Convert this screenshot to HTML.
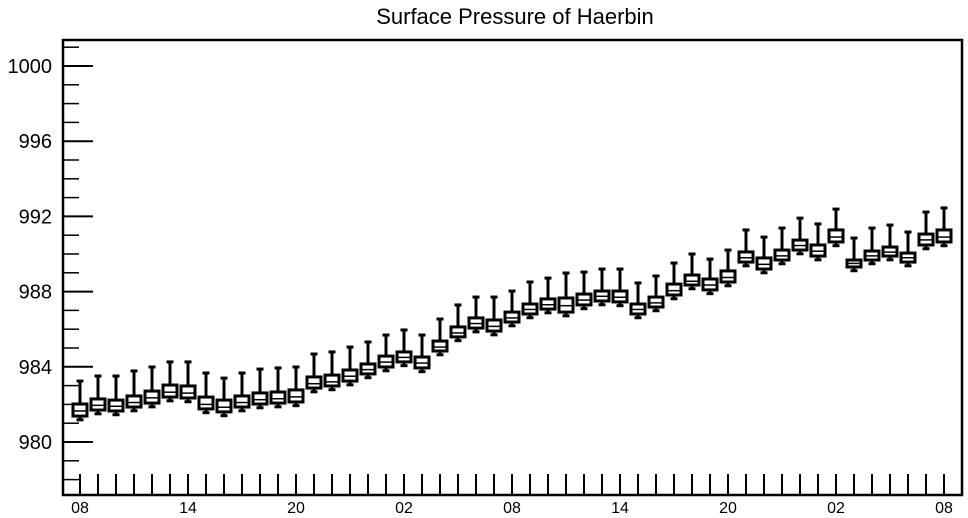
<!DOCTYPE html>
<html><head><meta charset="utf-8"><style>
body{margin:0;background:#fff}
svg{display:block;font-family:"Liberation Sans",sans-serif}
</style></head><body>
<svg id="chart" width="968" height="518" viewBox="0 0 968 518">
<text x="515" y="24" text-anchor="middle" font-size="22">Surface Pressure of Haerbin</text>
<g id="axes"></g>
<g id="boxes"></g>
</svg>
<script>
const xLabels = ["08","14","20","02","08","14","20","02","08"];
const yTicks = [980,984,988,992,996,1000];
const q3 = [982.02,982.29,982.23,982.45,982.71,983.03,982.98,982.39,982.23,982.45,982.61,982.66,982.77,983.46,983.56,983.83,984.15,984.57,984.79,984.52,985.37,986.12,986.60,986.49,986.91,987.34,987.61,987.66,987.87,988.03,988.03,987.34,987.71,988.40,988.88,988.67,989.10,990.11,989.79,990.21,990.74,990.48,991.28,989.68,990.16,990.37,990.05,991.06,991.28];
const q1 = [981.38,981.70,981.65,981.86,982.07,982.39,982.34,981.76,981.60,981.86,982.02,982.07,982.13,982.87,982.98,983.24,983.62,983.99,984.26,983.94,984.84,985.59,986.06,985.90,986.38,986.81,987.07,986.91,987.29,987.50,987.45,986.81,987.18,987.82,988.35,988.09,988.51,989.57,989.20,989.68,990.21,989.89,990.64,989.31,989.68,989.89,989.57,990.48,990.64];
const med = [981.65,981.95,981.90,982.10,982.35,982.65,982.60,982.00,981.85,982.10,982.25,982.30,982.40,983.10,983.20,983.50,983.85,984.25,984.50,984.20,985.05,985.80,986.30,986.15,986.60,987.05,987.30,987.25,987.55,987.75,987.70,987.05,987.40,988.05,988.55,988.35,988.75,989.80,989.45,989.90,990.45,990.15,990.90,989.50,989.90,990.10,989.80,990.75,990.90];
const wMax = [983.24,983.51,983.51,983.78,983.99,984.26,984.26,983.67,983.40,983.67,983.88,983.94,983.99,984.68,984.79,985.05,985.32,985.69,985.96,985.69,986.54,987.29,987.71,987.71,988.03,988.51,988.72,988.99,989.04,989.20,989.20,988.46,988.83,989.52,990.00,989.73,990.21,991.28,990.90,991.38,991.91,991.60,992.39,990.85,991.38,991.54,991.17,992.23,992.45];
const wMin = [981.18,981.50,981.45,981.66,981.87,982.19,982.14,981.56,981.40,981.66,981.82,981.87,981.93,982.67,982.78,983.04,983.42,983.79,984.06,983.74,984.64,985.39,985.86,985.70,986.18,986.61,986.87,986.71,987.09,987.30,987.25,986.61,986.98,987.62,988.15,987.89,988.31,989.37,989.00,989.48,990.01,989.69,990.44,989.11,989.48,989.69,989.37,990.28,990.44];

const NS="http://www.w3.org/2000/svg";
const L=63,R=962,T=40,B=495;
const yScale=v=>442-(v-980)*18.8;
const xScale=i=>80+i*18;
const axes=document.getElementById('axes');
const boxes=document.getElementById('boxes');
function mk(tag,attrs,parent){const e=document.createElementNS(NS,tag);for(const k in attrs)e.setAttribute(k,attrs[k]);parent.appendChild(e);return e;}

let fr=mk('rect',{x:L,y:T,width:R-L,height:B-T,fill:'none',stroke:'#000','stroke-width':2.5},axes);



for(let v=978;v<=1001;v++){
  const y=yScale(v);const major=(v%4===0);
  let t=mk('line',{x1:L,x2:L+(major?30:16),y1:y,y2:y,stroke:'#000','stroke-width':major?2:1.5},axes);
  
  
}
yTicks.forEach(v=>{
  let t=mk('text',{x:52,y:yScale(v)+7,'text-anchor':'end','font-size':20},axes);
  t.textContent=v;
  
  
});
for(let i=0;i<q3.length;i++){
  let t=mk('line',{x1:xScale(i),x2:xScale(i),y1:474,y2:B,stroke:'#000','stroke-width':2},axes);
  
  
}
xLabels.forEach((s,k)=>{
  let t=mk('text',{x:xScale(k*6),y:513,'text-anchor':'middle','font-size':16},axes);
  t.textContent=s;
  
  
});

for(let i=0;i<q3.length;i++){
  const x=xScale(i);
  const g=mk('g',{},boxes);
  
  
  mk('line',{x1:x,x2:x,y1:yScale(wMax[i]),y2:yScale(q3[i]),stroke:'#000','stroke-width':3},g);
  mk('line',{x1:x-3.5,x2:x+3.5,y1:yScale(wMax[i]),y2:yScale(wMax[i]),stroke:'#000','stroke-width':3},g);
  mk('line',{x1:x,x2:x,y1:yScale(q1[i]),y2:yScale(wMin[i]),stroke:'#000','stroke-width':3},g);
  mk('line',{x1:x-3.5,x2:x+3.5,y1:yScale(wMin[i]),y2:yScale(wMin[i]),stroke:'#000','stroke-width':3},g);
  mk('rect',{x:x-7,y:yScale(q3[i]),width:14,height:yScale(q1[i])-yScale(q3[i]),fill:'#fff',stroke:'#000','stroke-width':3},g);
  mk('line',{x1:x-7,x2:x+7,y1:yScale(med[i]),y2:yScale(med[i]),stroke:'#000','stroke-width':1.5},g);
}
</script>
</body></html>
